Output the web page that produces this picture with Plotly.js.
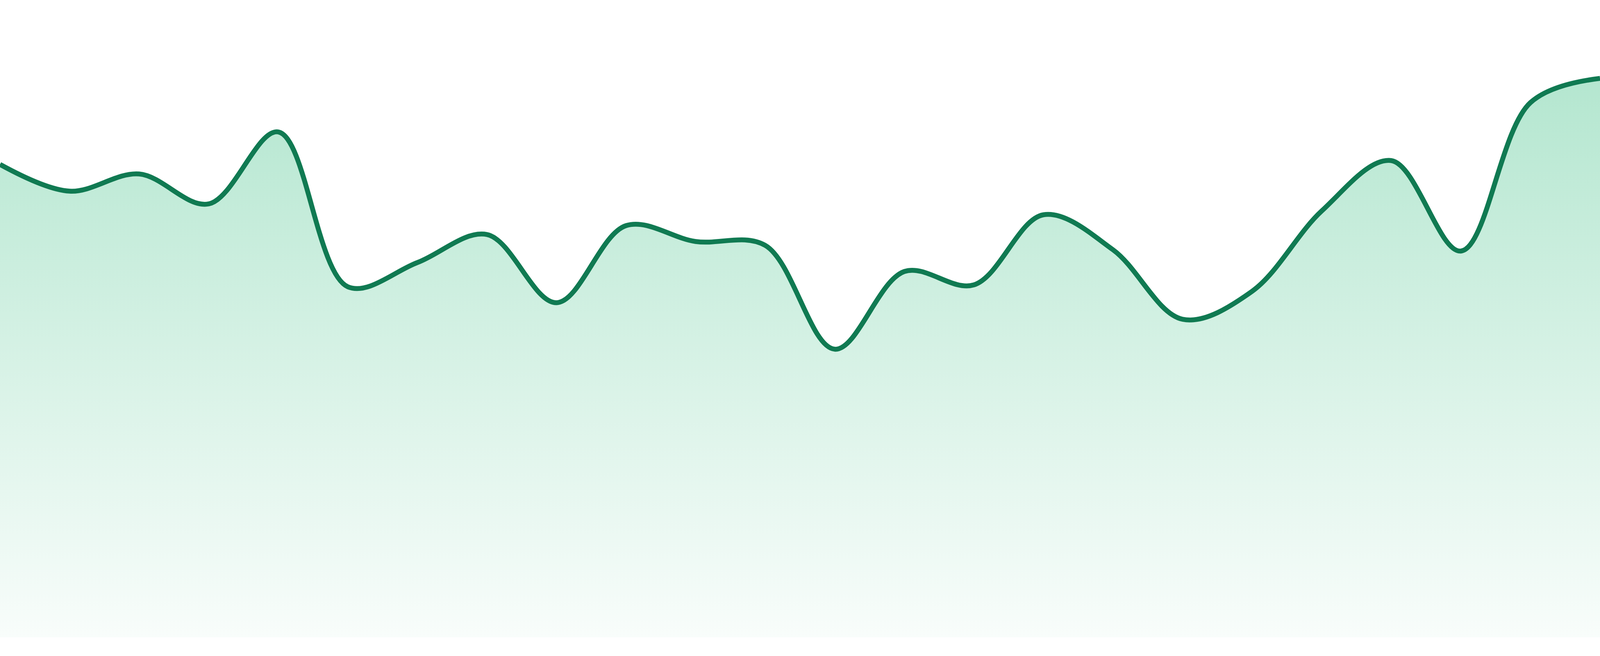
<!DOCTYPE html>
<html>
<head>
<meta charset="utf-8">
<script src="https://cdn.plot.ly/plotly-3.0.1.min.js"></script>
<style>
  html, body { margin: 0; padding: 0; background: #ffffff; overflow: hidden; }
  #chart { width: 100vw; height: 100vh; }
</style>
</head>
<body>
<div id="chart"></div>
<script>
var days = [1, 2, 3, 4, 5, 6, 7, 8, 9, 10, 11, 12,
            13, 14, 15, 16, 17, 18, 19, 20, 21, 22, 23, 24];
var values = [74.2, 70.0, 72.7, 68.0, 79.3, 55.0, 58.8, 63.2, 52.5, 64.6, 62.1, 61.5,
              45.2, 57.4, 55.3, 66.3, 60.8, 49.9, 54.3, 66.9, 74.8, 60.6, 83.9, 87.7];

var lineColor = '#107a52';

// the window may come out narrower than 4800, so fill whatever it is
var W = window.innerWidth;
var H = window.innerHeight;
var k = H / 1680;

var trace = {
    x: days,
    y: values,
    type: 'scatter',
    mode: 'lines',
    line: { color: lineColor, width: 12.5 * k, shape: 'spline', smoothing: 1 },
    fill: 'tozeroy',
    fillgradient: {
        type: 'vertical',
        start: 0,
        stop: 100,
        colorscale: [
            [0, 'rgba(38,184,118,0.03)'],
            [1, 'rgba(38,184,118,0.39)']
        ]
    },
    hoverinfo: 'skip'
};

var layout = {
    width: W,
    height: H,
    margin: { l: 0, r: 0, t: 0, b: Math.round(48 * k), pad: 0 },
    paper_bgcolor: '#ffffff',
    plot_bgcolor: '#ffffff',
    showlegend: false,
    xaxis: { range: [1, 24], visible: false, fixedrange: true },
    yaxis: { range: [0, 100], visible: false, fixedrange: true }
};

Plotly.newPlot('chart', [trace], layout, { displayModeBar: false, staticPlot: true });
</script>
</body>
</html>
